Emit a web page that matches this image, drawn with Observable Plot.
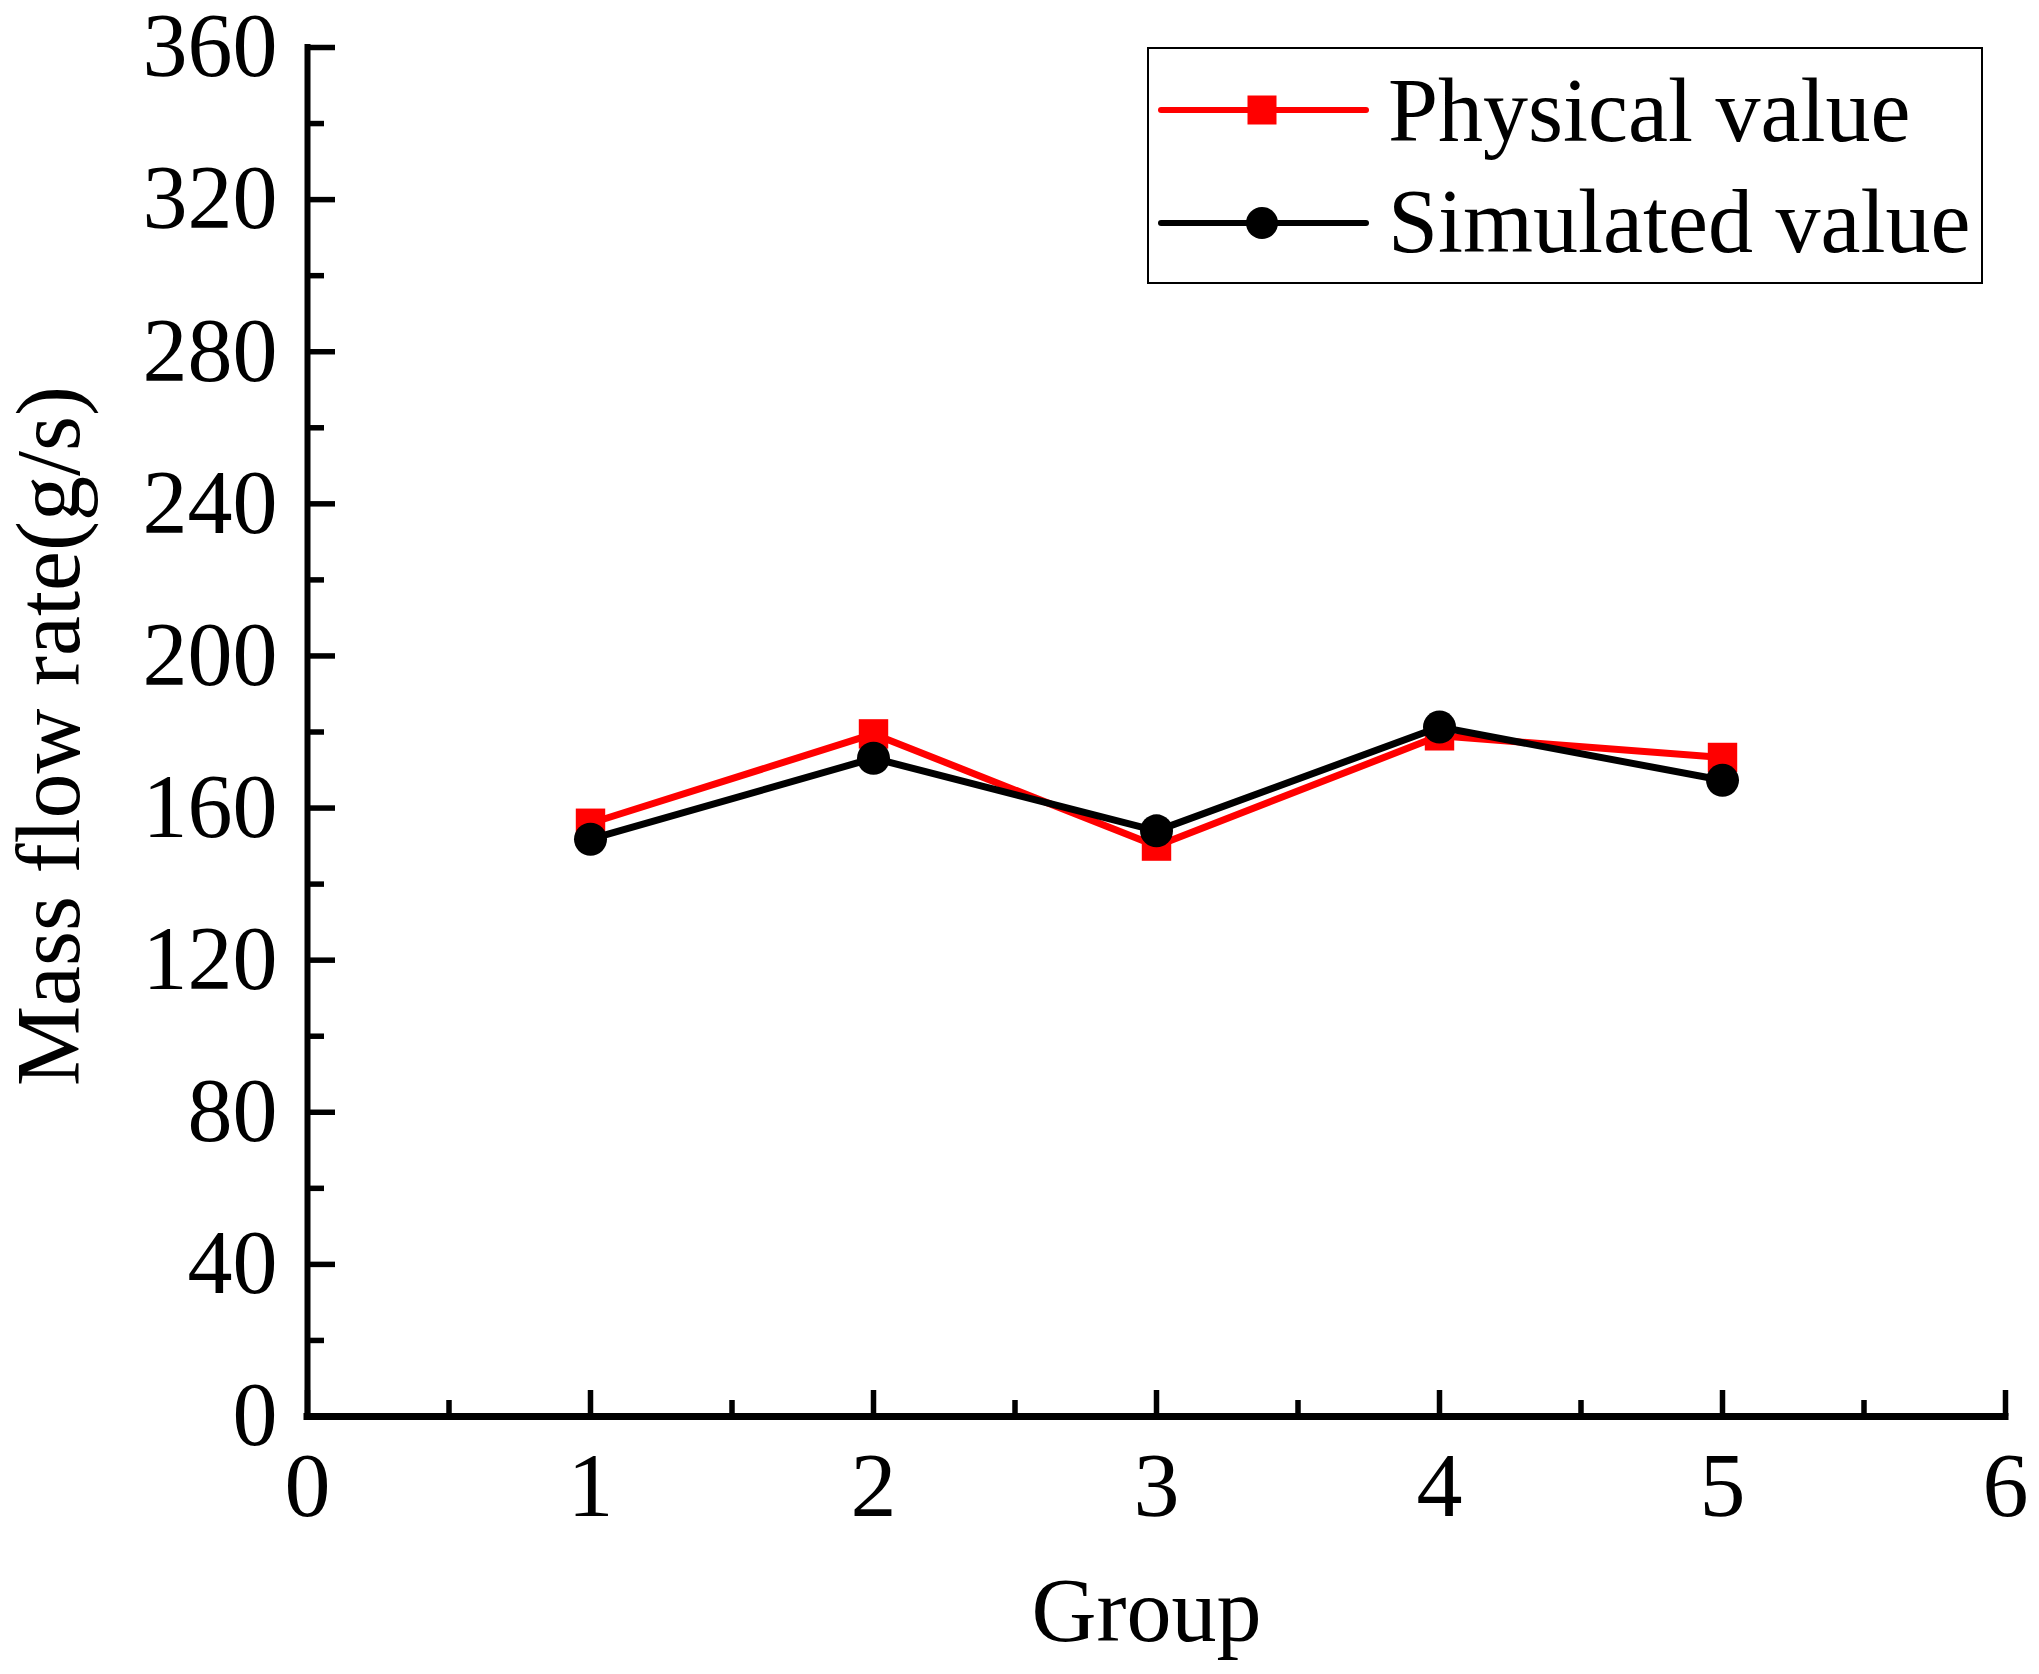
<!DOCTYPE html>
<html><head><meta charset="utf-8">
<script src="https://cdn.jsdelivr.net/npm/d3@7"></script>
<script src="https://cdn.jsdelivr.net/npm/@observablehq/plot@0.6"></script>
<style>
html,body{margin:0;padding:0;background:#fff;overflow:hidden;}
#wrap{position:relative;width:2039px;height:1674px;}
#legend{position:absolute;left:1147px;top:47px;}
</style></head><body><div id="wrap"></div>
<script>
// ---- data ----
const groups = [1, 2, 3, 4, 5];
const physical = [156.0, 179.5, 150.0, 179.0, 173.3];
const simulated = [151.8, 173.1, 154.0, 181.3, 167.3];
const seriesNames = ["Physical value", "Simulated value"];
const seriesColors = ["#ff0000", "#000000"];
const seriesSymbols = ["square", "circle"];
const xTicks = [0, 1, 2, 3, 4, 5, 6];
const xMinorTicks = [0.5, 1.5, 2.5, 3.5, 4.5, 5.5];
const yTicks = [0, 40, 80, 120, 160, 200, 240, 280, 320, 360];
const yMinorTicks = [20, 60, 100, 140, 180, 220, 260, 300, 340];
const xTitle = "Group";
const yTitle = "Mass flow rate(g/s)";

const physRows = groups.map((g, i) => ({group: g, value: physical[i]}));
const simRows = groups.map((g, i) => ({group: g, value: simulated[i]}));

const FONT = "'Liberation Serif', 'Times New Roman', Times, serif";

const plot = Plot.plot({
  width: 2039,
  height: 1674,
  marginLeft: 307,
  marginRight: 34,
  marginTop: 47,
  marginBottom: 258,
  style: {fontFamily: FONT, fontSize: "90px", color: "#000", background: "#fff", overflow: "visible"},
  x: {domain: [0, 6], nice: false},
  y: {domain: [0, 360], nice: false},
  marks: [
    // tick marks (inward)
    Plot.axisY({ticks: yTicks, tickSize: -28, strokeWidth: 5.5, text: null, label: null}),
    Plot.axisY({ticks: yMinorTicks, tickSize: -17, strokeWidth: 5.5, text: null, label: null}),
    Plot.axisY({ticks: yTicks, tickSize: 0, tickPadding: 30, fontSize: 90, label: null, tickFormat: d => String(d)}),
    Plot.axisX({ticks: xTicks, tickSize: -26, strokeWidth: 5.5, text: null, label: null}),
    Plot.axisX({ticks: xMinorTicks, tickSize: -16, strokeWidth: 5.5, text: null, label: null}),
    Plot.axisX({ticks: xTicks, tickSize: 0, tickPadding: 34, fontSize: 92, label: null, tickFormat: d => String(d)}),
    // axis lines
    Plot.ruleX([0], {stroke: "#000", strokeWidth: 6, strokeLinecap: "square"}),
    Plot.ruleY([0], {stroke: "#000", strokeWidth: 7, strokeLinecap: "square"}),
    // series
    Plot.line(physRows, {x: "group", y: "value", stroke: seriesColors[0], strokeWidth: 7}),
    Plot.dot(physRows, {x: "group", y: "value", symbol: seriesSymbols[0], r: 16.6, fill: seriesColors[0], stroke: "none"}),
    Plot.line(simRows, {x: "group", y: "value", stroke: seriesColors[1], strokeWidth: 7}),
    Plot.dot(simRows, {x: "group", y: "value", symbol: seriesSymbols[1], r: 16.5, fill: seriesColors[1], stroke: "none"}),
    // titles
    Plot.text([xTitle], {text: d => d, frameAnchor: "bottom", textAnchor: "middle", lineAnchor: "bottom", dx: -10, dy: 224, fontSize: 90, fill: "#000"}),
    Plot.text([yTitle], {text: d => d, frameAnchor: "left", textAnchor: "middle", lineAnchor: "bottom", rotate: -90, dx: -229, dy: 4, fontSize: 90, fill: "#000"})
  ]
});
document.getElementById("wrap").appendChild(plot);

// ---- legend (overlay inside plot area) ----
const lg = d3.select("#wrap").append("svg").attr("id", "legend")
  .attr("width", 838).attr("height", 240)
  .style("font-family", FONT);
lg.append("rect").attr("x", 1).attr("y", 1).attr("width", 834).attr("height", 235)
  .attr("fill", "#fff").attr("stroke", "#000").attr("stroke-width", 2);
const rowsY = [63, 176];
const baseY = [94, 205];
seriesNames.forEach((name, i) => {
  lg.append("line").attr("x1", 14).attr("x2", 219).attr("y1", rowsY[i]).attr("y2", rowsY[i])
    .attr("stroke", seriesColors[i]).attr("stroke-width", 6).attr("stroke-linecap", "round");
  if (seriesSymbols[i] === "square") {
    lg.append("rect").attr("x", 115 - 14.5).attr("y", rowsY[i] - 14.5).attr("width", 29).attr("height", 29)
      .attr("fill", seriesColors[i]);
  } else {
    lg.append("circle").attr("cx", 115).attr("cy", rowsY[i]).attr("r", 16).attr("fill", seriesColors[i]);
  }
  lg.append("text").attr("x", 241).attr("y", baseY[i]).attr("font-size", 90).attr("fill", "#000").text(name);
});
</script>
</body></html>
